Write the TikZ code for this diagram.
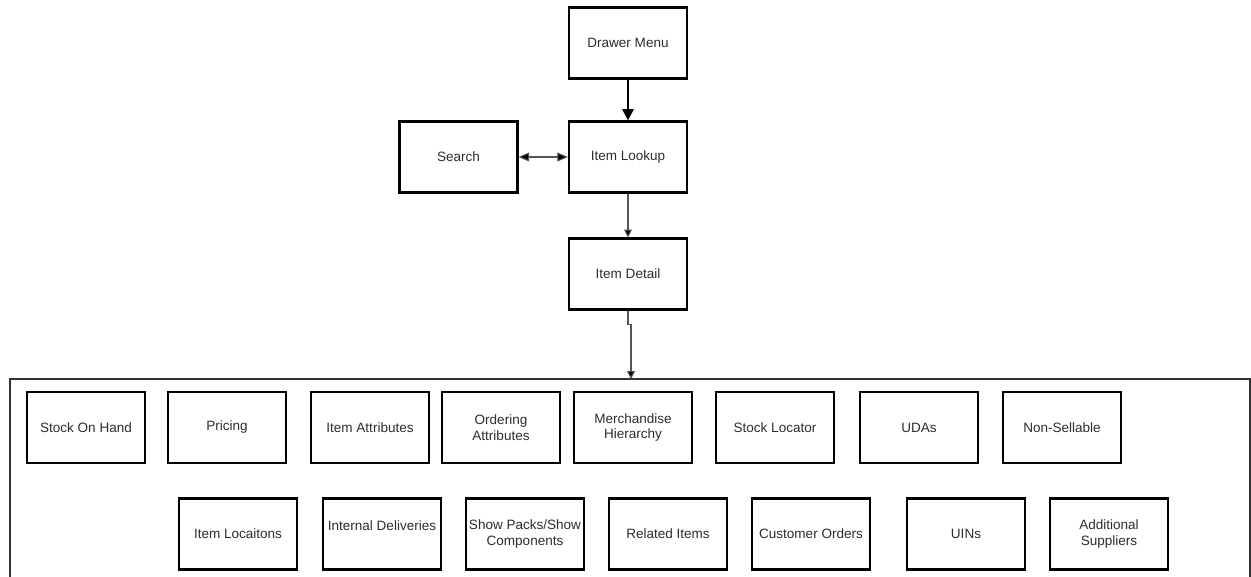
\documentclass[tikz,border=0pt]{standalone}
\usepackage{fontspec}
\setmainfont{Liberation Sans}
\usetikzlibrary{positioning,arrows.meta}
\definecolor{boxtext}{RGB}{45,45,45}
\definecolor{linkgray}{RGB}{85,85,85}
\tikzset{
  box/.style={draw=black,line width=1.2pt,fill=white,minimum width=2.36cm,minimum height=1.42cm,inner sep=1pt,align=center,text=boxtext,font=\fontsize{7.7}{9.1}\selectfont},
  mainarr/.style={line width=1.1pt,-{Triangle[length=6.5pt,width=6.5pt]}},
  bothway/.style={line width=0.6pt,draw=linkgray,{Triangle[length=6pt,width=5pt,fill=black]}-{Triangle[length=6pt,width=5pt,fill=black]}},
  linkarr/.style={line width=0.6pt,draw=linkgray,-{Triangle[length=4.5pt,width=4.5pt,fill=black]}},
  panel/.style={line width=0.7pt,draw=black!80}
}
\begin{document}
\begin{tikzpicture}[x=0.02cm,y=-0.02cm]
  \useasboundingbox (0,0) rectangle (1251,577);
  % navigation
  \node[box] (drawer) at (628,43) {Drawer Menu};
  \node[box] (lookup) at (628,157) {Item Lookup};
  \node[box] (search) at (458.5,157) {Search};
  \node[box] (detail) at (628,274) {Item Detail};
  \draw[mainarr] (drawer) -- (lookup);
  \draw[bothway] (search) -- (lookup);
  \draw[linkarr] (lookup) -- (detail);
  % detail panel
  \draw[panel] (10,580) |- (1250,379) -- (1250,580);
  \coordinate (pin) at (631,379);
  \draw[linkarr] (detail.south) -- ++(0,14) -| (pin);
  % first row
  \node[box] (soh) at (86,427.5) {Stock On Hand}; \node[box] (pricing) at (227,427.5) {Pricing};
  \node[box] (attrs) at (370,427.5) {Item Attributes}; \node[box] (ordattrs) at (501,427.5) {Ordering\\Attributes};
  \node[box] (merch) at (633,427.5) {Merchandise\\Hierarchy}; \node[box] (locator) at (775,427.5) {Stock Locator};
  \node[box] (udas) at (919,427.5) {UDAs}; \node[box] (nonsell) at (1062,427.5) {Non-Sellable};
  % second row
  \node[box] (itemlocs) at (238,534) {Item Locaitons}; \node[box] (deliv) at (382,534) {Internal Deliveries\\\mbox{}};
  \node[box] (packs) at (525,534) {Show Packs/Show\\Components}; \node[box] (related) at (668,534) {Related Items};
  \node[box] (custord) at (811,534) {Customer Orders}; \node[box] (uins) at (966,534) {UINs};
  \node[box] (addsupp) at (1109,534) {Additional\\Suppliers};
\end{tikzpicture}
\end{document}
